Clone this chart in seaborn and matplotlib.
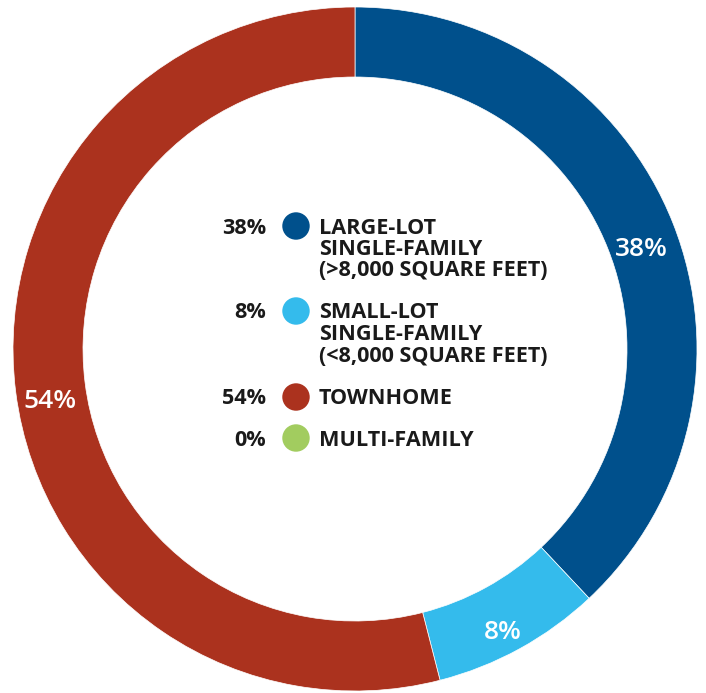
import matplotlib
matplotlib.use("Agg")
import matplotlib.pyplot as plt
import seaborn as sns
import numpy as np
import pandas as pd

# data
categories = ["LARGE-LOT\nSINGLE-FAMILY\n(>8,000 SQUARE FEET)",
              "SMALL-LOT\nSINGLE-FAMILY\n(<8,000 SQUARE FEET)",
              "TOWNHOME",
              "MULTI-FAMILY"]
shares = [38, 8, 54, 0]
colours = ["#00508c", "#34bbec", "#ab321e", "#a2cc5f"]

sns.set_theme(style="white")
plt.rcParams['font.family'] = ['Open Sans', 'DejaVu Sans']

W, H = 706, 693
fig = plt.figure(figsize=(W / 100, H / 100), dpi=100)
ax = fig.add_axes([0, 0, 1, 1])
palette = sns.color_palette(colours)

# only non-zero slices go in the ring
df = pd.DataFrame({"cat": categories, "share": shares, "colour": palette})
ring = df[df["share"] > 0]

cx, cy, R = 355, H - 349, 342
wedges, texts, autotexts = ax.pie(
    ring["share"], colors=list(ring["colour"]), startangle=90, counterclock=False,
    radius=R, center=(cx, cy),
    wedgeprops=dict(width=70, edgecolor="white", linewidth=0.5),
    autopct=lambda p: f"{p:.0f}%", pctdistance=0.9,
    textprops=dict(color="white", fontsize=19, fontweight="semibold"))

# labels sit a little lower than the wedge middle in the original
for t in autotexts:
    x, y = t.get_position()
    t.set_position((x, y - 14))

ax.set_xlim(0, W)
ax.set_ylim(0, H)
ax.set_aspect("equal")
ax.axis("off")

# legend in the middle
row_y = [226, 311, 397, 438]
dot_x, pct_x, txt_x = 296, 266, 319
leg = pd.DataFrame({"x": [dot_x] * len(shares), "y": [H - y for y in row_y], "cat": categories})
sns.scatterplot(data=leg, x="x", y="y", hue="cat", palette=palette, s=390,
                edgecolor="none", legend=False, ax=ax)
ax.set_xlabel("")
ax.set_ylabel("")

fs = 15.6
for y, cat, v in zip(row_y, categories, shares):
    ax.text(pct_x, H - y - 7.5, f"{v}%", ha="right", va="baseline",
            fontsize=fs, fontweight="bold", color="#1a1a1a")
    for i, line in enumerate(cat.split("\n")):
        ax.text(txt_x, H - y - 7.5 - i * 21.5, line, ha="left", va="baseline",
                fontsize=fs, fontweight="bold", color="#1a1a1a")

fig.savefig("out.png", dpi=100)
